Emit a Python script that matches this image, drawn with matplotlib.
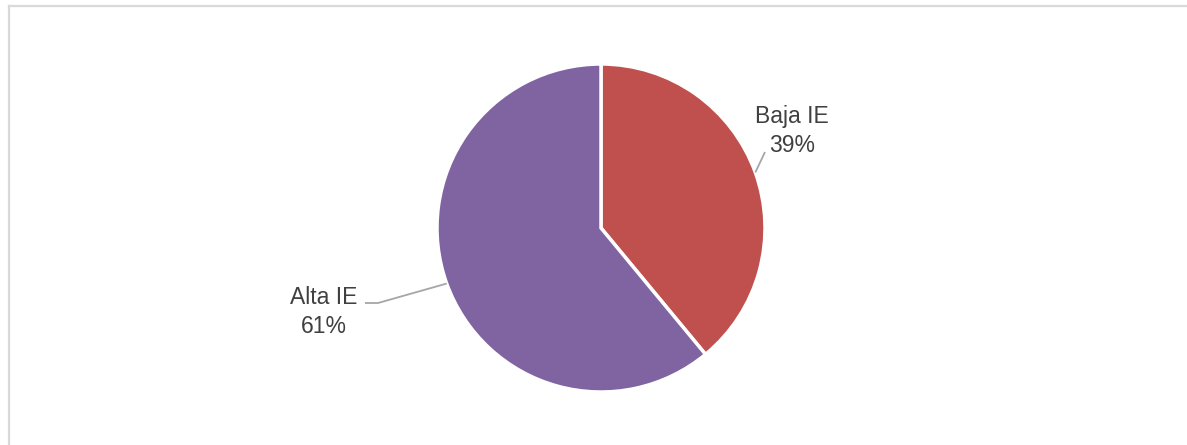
import numpy as np
import matplotlib
matplotlib.use("Agg")
import matplotlib.pyplot as plt
from matplotlib.lines import Line2D

plt.rcParams['font.family'] = ['Liberation Sans', 'DejaVu Sans']

labels = ["Baja IE", "Alta IE"]
values = [39, 61]
colors = ["#C0504D", "#8064A2"]

W, H = 1187, 445
fig = plt.figure(figsize=(W / 100, H / 100), dpi=100)
ax = fig.add_axes([0, 0, 1, 1])

cx, cy, r = 601, H - 228, 164
wedges, _ = ax.pie(values, colors=colors, startangle=90, counterclock=False,
                   center=(cx, cy), radius=r, frame=True,
                   wedgeprops=dict(edgecolor="white", linewidth=2.5))
ax.set_xlim(0, W)
ax.set_ylim(0, H)
ax.set_aspect("equal")
ax.axis("off")

# label anchor (text centre) and leader-line end for each slice
label_pos = [(792, H - 131), (324, H - 312)]
leader_end = [[(765, H - 152)], [(378, H - 303), (365, H - 303)]]

for w, lab, val, pos, ends in zip(wedges, labels, values, label_pos, leader_end):
    ang = np.deg2rad((w.theta1 + w.theta2) / 2)
    sx, sy = cx + r * np.cos(ang), cy + r * np.sin(ang)
    xs = [sx] + [p[0] for p in ends]
    ys = [sy] + [p[1] for p in ends]
    ax.plot(xs, ys, color="#A6A6A6", lw=1.3, solid_capstyle="butt")
    ax.text(pos[0], pos[1], f"{lab}\n{val}%", ha="center", va="center",
            fontsize=16.5, color="#404040", linespacing=1.38)

# chart area border (left and top only)
fig.add_artist(Line2D([8.5 / W, 8.5 / W], [0, 1 - 5.5 / H], color="#D9D9D9", lw=1.6,
                      transform=fig.transFigure))
fig.add_artist(Line2D([8.5 / W, 1], [1 - 5.5 / H, 1 - 5.5 / H], color="#D9D9D9", lw=1.6,
                      transform=fig.transFigure))

fig.savefig("out.png", dpi=100, facecolor="white")
